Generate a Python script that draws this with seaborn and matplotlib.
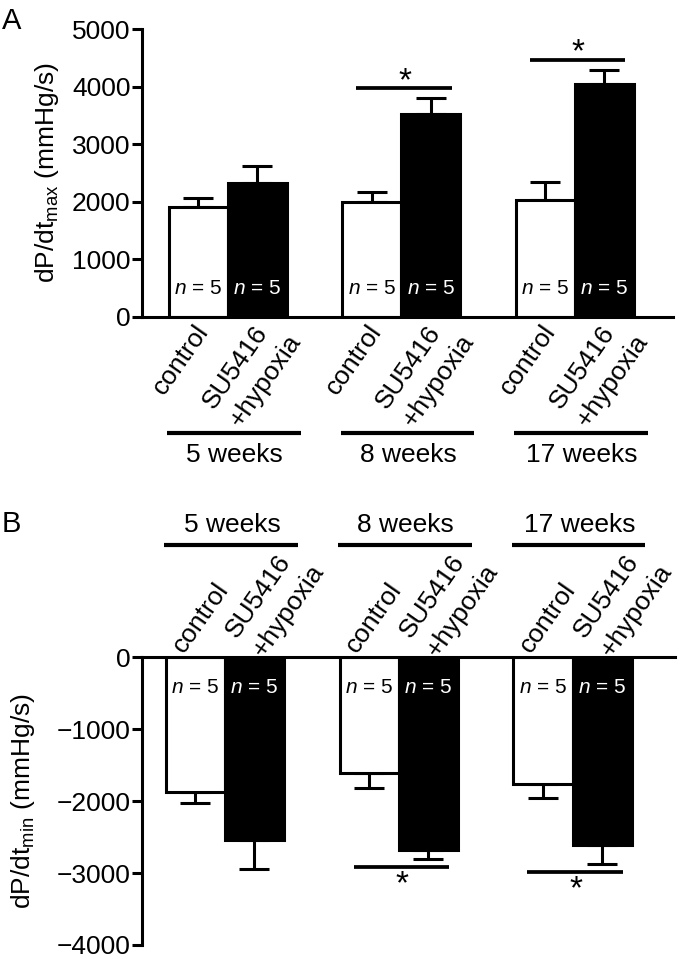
import matplotlib
matplotlib.use("Agg")
import matplotlib.pyplot as plt
import matplotlib.transforms as mtransforms
import numpy as np
import pandas as pd
import seaborn as sns

# data (mmHg/s, mean and SEM)
weeks = ["5 weeks", "8 weeks", "17 weeks"]
treatments = ["control", "SU5416\n+hypoxia"]
n_per_bar = [5, 5, 5, 5, 5, 5]

max_control = [1900, 2000, 2030]
max_control_sem = [160, 175, 305]
max_su = [2330, 3520, 4040]
max_su_sem = [295, 280, 255]

min_control = [-1870, -1610, -1770]
min_control_sem = [160, 215, 185]
min_su = [-2545, -2685, -2605]
min_su_sem = [405, 120, 275]

max_sig = [False, True, True]
min_sig = [False, True, True]

sns.set_style("ticks")
plt.rcParams["font.family"] = ["Liberation Sans", "DejaVu Sans"]
plt.rcParams["mathtext.fontset"] = "custom"
plt.rcParams["mathtext.rm"] = "Liberation Sans"
plt.rcParams["mathtext.it"] = "Liberation Sans:italic"
for key in ["text.color", "axes.labelcolor", "xtick.color", "ytick.color",
            "axes.edgecolor"]:
    plt.rcParams[key] = "black"


def shifted(ax, dx_px, dy_px):
    """data-x / axes-y transform nudged by a few pixels"""
    base = mtransforms.blended_transform_factory(ax.transData, ax.transAxes)
    return base + mtransforms.ScaledTranslation(dx_px / 100, dy_px / 100,
                                                ax.figure.dpi_scale_trans)


def draw_panel(ax, control, control_sem, su, su_sem, sig, sign, n_y):
    df = pd.DataFrame({
        "week": weeks * 2,
        "group": [treatments[0]] * 3 + [treatments[1]] * 3,
        "value": control + su,
    })
    sns.barplot(data=df, x="week", y="value", hue="group", hue_order=treatments,
                palette=["white", "black"], saturation=1, edgecolor="black",
                linewidth=2.2, width=0.68, errorbar=None, legend=False, ax=ax)

    centers = [p.get_x() + p.get_width() / 2 for p in ax.patches]
    means = np.array(control + su)
    sems = np.array(control_sem + su_sem)
    yerr = np.zeros((2, 6))
    yerr[1 if sign > 0 else 0] = sems
    ax.errorbar(centers, means, yerr=yerr, fmt="none", ecolor="black",
                elinewidth=2.2, capsize=10.5, capthick=2.2, zorder=0.5)

    # n labels inside bars
    for i, (cx, n) in enumerate(zip(centers, n_per_bar)):
        ax.text(cx, n_y, f"$n$ = {n}", ha="center", va="center", fontsize=15,
                color="black" if i < 3 else "white")

    # significance bars
    for i in range(3):
        if not sig[i]:
            continue
        gc = (centers[i] + centers[i + 3]) / 2
        ends = [means[i] + sign * sems[i], means[i + 3] + sign * sems[i + 3]]
        y = max(ends) + 170 if sign > 0 else min(ends) - 105
        ax.plot([gc - 0.26, gc + 0.29], [y, y], color="black", lw=2.7,
                clip_on=False, solid_capstyle="butt")
        ax.annotate("*", (gc + 0.02, y), xytext=(0, sign * 9 - 4),
                    textcoords="offset points", ha="center", va="center",
                    fontsize=24)

    # rotated group labels (one per bar)
    side = 0 if sign > 0 else 1
    offsets = [(-17.5, -43), (-5.5, -55)] if sign > 0 else [(5, 39), (21, 56)]
    for i, cx in enumerate(centers):
        dx, dy = offsets[i // 3]
        ax.text(cx, side, treatments[i // 3], transform=shifted(ax, dx, dy),
                rotation=55, rotation_mode="anchor", ha="center", va="center",
                multialignment="left", linespacing=1.45, fontsize=19)

    ax.set_xticks([])
    ax.set_xlabel("")
    ax.tick_params(axis="y", length=7, width=2.2, labelsize=19, pad=1)
    for s in ax.spines.values():
        s.set_linewidth(2.2)
    return centers


fig = plt.figure(figsize=(6.84, 9.59), dpi=100)

# panel A
ax_a = fig.add_axes([0.2069, 0.6698, 0.7770, 0.2997])
cen = draw_panel(ax_a, max_control, max_control_sem, max_su, max_su_sem,
                 max_sig, 1, 490)
ax_a.set_ylim(0, 5000)
ax_a.set_yticks(range(0, 5001, 1000))
ax_a.set_xlim(-0.497, 2.565)
ax_a.spines[["top", "right"]].set_visible(False)
ax_a.set_ylabel(r"dP/dt$_{\mathrm{max}}$ (mmHg/s)", fontsize=19)
ax_a.yaxis.set_label_coords(-0.152, 0.5)
trans = mtransforms.blended_transform_factory(ax_a.transData, ax_a.transAxes)
for i, w in enumerate(weeks):
    gc = (cen[i] + cen[i + 3]) / 2
    ax_a.plot([gc - 0.35, gc + 0.42], [-0.406, -0.406], transform=trans,
              color="black", lw=3, clip_on=False, solid_capstyle="butt")
    ax_a.text(gc + 0.04, -0.481, w, transform=trans, ha="center", va="center",
              fontsize=19)

# panel B
ax_b = fig.add_axes([0.2069, 0.0146, 0.7800, 0.3003])
cen = draw_panel(ax_b, min_control, min_control_sem, min_su, min_su_sem,
                 min_sig, -1, -430)
ax_b.set_ylim(-4000, 0)
ax_b.set_yticks(range(-4000, 1, 1000))
ax_b.set_xlim(-0.48, 2.59)
ax_b.spines[["bottom", "right"]].set_visible(False)
ax_b.set_ylabel(r"dP/dt$_{\mathrm{min}}$ (mmHg/s)", fontsize=19)
ax_b.yaxis.set_label_coords(-0.195, 0.5)
trans = mtransforms.blended_transform_factory(ax_b.transData, ax_b.transAxes)
for i, w in enumerate(weeks):
    gc = (cen[i] + cen[i + 3]) / 2
    ax_b.plot([gc - 0.35, gc + 0.42], [1.390, 1.390], transform=trans,
              color="black", lw=3, clip_on=False, solid_capstyle="butt")
    ax_b.text(gc + 0.04, 1.459, w, transform=trans, ha="center", va="center",
              fontsize=19)

fig.text(0.003, 0.993, "A", fontsize=21, ha="left", va="top")
fig.text(0.003, 0.468, "B", fontsize=21, ha="left", va="top")

fig.savefig("out.png", dpi=100)
